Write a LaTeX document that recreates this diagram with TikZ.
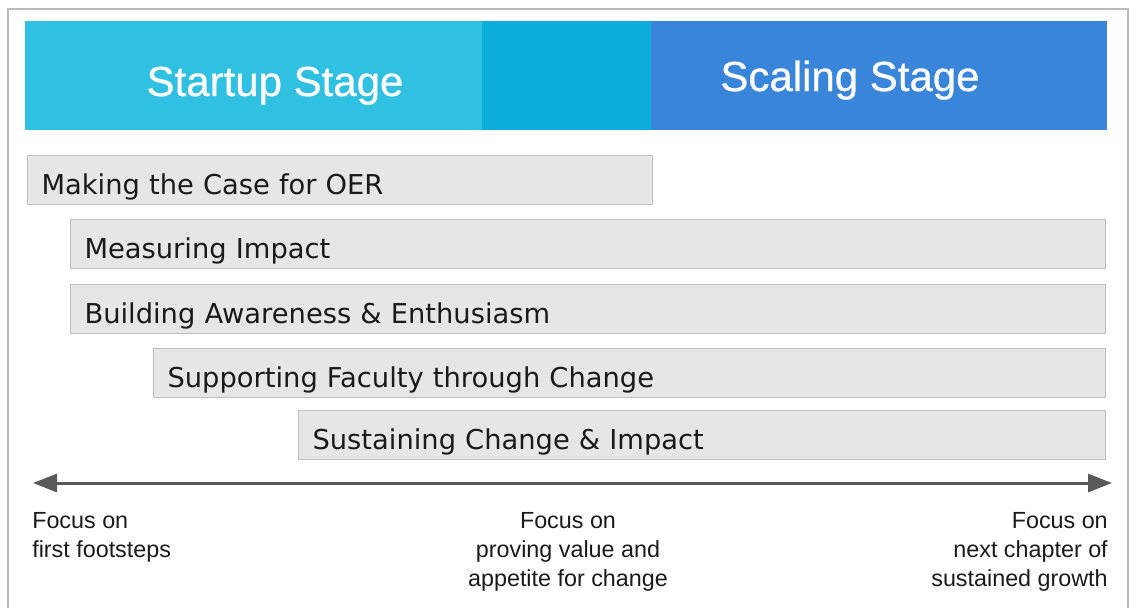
\documentclass[tikz,border=0pt]{standalone}
\usepackage{fontspec}
\setmainfont{Liberation Sans}
\newfontfamily\boxfont{DejaVu Sans}
\newfontfamily\stagefont[FakeBold=0.6]{Liberation Sans}
\usetikzlibrary{arrows.meta,positioning}

\definecolor{startcyan}{HTML}{2FC0E2}
\definecolor{bridgecyan}{HTML}{0CAFDC}
\definecolor{scaleblue}{HTML}{3985DA}
\definecolor{boxfill}{HTML}{E6E6E6}
\definecolor{boxline}{HTML}{BEBEBE}
\definecolor{framegray}{HTML}{BBBBBB}
\definecolor{arrowgray}{HTML}{595959}
\definecolor{textdark}{HTML}{1A1A1A}

\tikzset{
  stagetext/.style={text=white, inner sep=0pt, anchor=base, font=\stagefont\fontsize{31.5}{38}\selectfont},
  phasebox/.style={draw=boxline, fill=boxfill, line width=0.75pt, anchor=north west,
    minimum height=36.75pt, inner xsep=10.5pt, inner ysep=0pt, align=left,
    text height=22pt, text depth=0pt, text=textdark,
    font=\boxfont\fontsize{20.5}{25}\selectfont},
  focustext/.style={text=textdark, inner sep=0pt, font=\fontsize{17.5}{21.75}\selectfont}
}

\begin{document}
\begin{tikzpicture}[x=0.75pt,y=-0.75pt]
    \useasboundingbox (0,0) rectangle (1130,607);

    %Frame
    \draw[framegray, line width=1.5pt] (7.5,615) -- (7.5,9) -- (1127.5,9) -- (1127.5,615);

    %Stages
    \fill[startcyan] (25,21) rectangle (482,130);
    \fill[bridgecyan] (482,21) rectangle (651,130);
    \fill[scaleblue] (651,21) rectangle (1107,130);
    \node[stagetext] (startup) at (275,96) {Startup Stage};
    \node[stagetext] (scaling) at (850,91) {Scaling Stage};

    %Phases
    \node[phasebox, text width=447.75pt] (case) at (27,155) {Making the Case for OER};
    \node[phasebox, text width=755.25pt] (measure) at (70,219) {Measuring Impact};
    \node[phasebox, text width=755.25pt] (aware) at (70,284) {Building Awareness \& Enthusiasm};
    \node[phasebox, text width=693pt] (support) at (153,348) {Supporting Faculty through Change};
    \node[phasebox, text width=584.25pt] (sustain) at (298,410) {Sustaining Change \& Impact};

    %Timeline
    \coordinate (tstart) at (33,483);
    \coordinate (tend) at (1112,483);
    \draw[arrowgray, line width=2.25pt, {Triangle[length=18pt,width=13.5pt]}-{Triangle[length=18pt,width=13.5pt]}] (tstart) -- (tend);

    %Focus labels
    \node[focustext, anchor=north west, align=left] (first) at (32,512) {Focus on\\first footsteps};
    \node[focustext, anchor=north, align=center] (proving) at (568,512) {Focus on\\proving value and\\appetite for change};
    \node[focustext, anchor=north east, align=right] (next) at (1108,512) {Focus on\\next chapter of\\sustained growth};
\end{tikzpicture}
\end{document}
